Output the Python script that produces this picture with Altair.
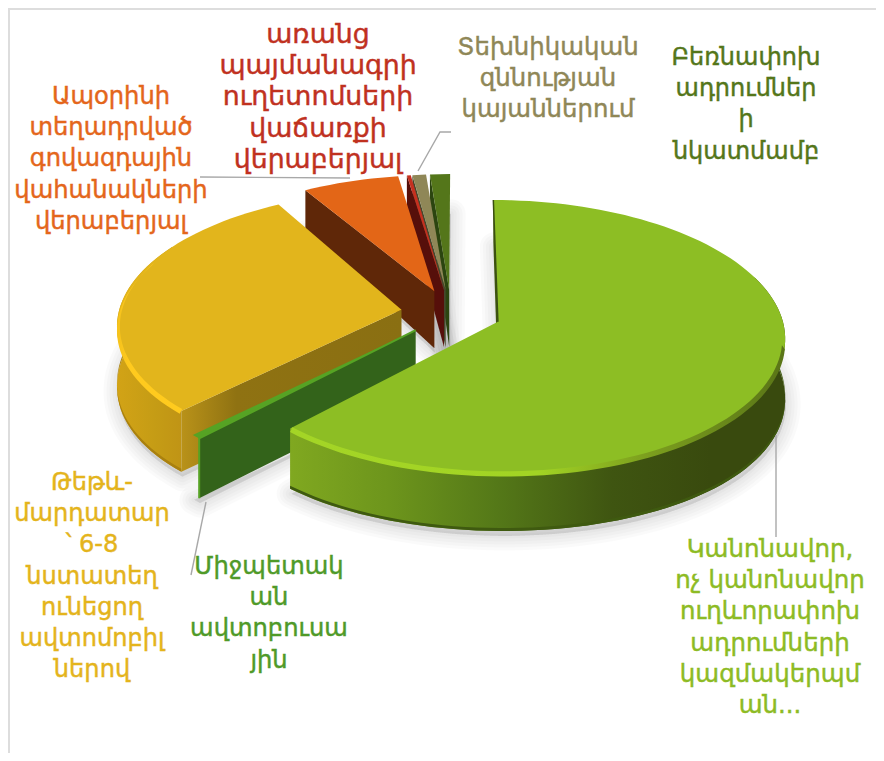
import math
import altair as alt

# --- data (share of the whole, percent; clockwise from 12 o'clock)
names = ["Կանոնավոր", "Միջպետական", "Թեթև-մարդատար", "Ապօրինի", "առանց", "Տեխնիկական", "Բեռնափոխ"]
shares = [62.0, 0.5, 29.3, 6.15, 0.25, 0.87, 1.28]
gaps = [0, 0, 0, -0.35, 0, 0, 0.05]
top_colors = ["#8dbe24", "#56a324", "#e2b51c", "#e36617", "#c5301f", "#8f8757", "#54761a"]
wall_colors = ["#3f5511", "#33631a", "#8a6f12", "#5f2708", "#560f0a", "#45472c", "#2c4510"]

label_lines = [
    ["Կանոնավոր,", "ոչ կանոնավոր", "ուղևորափոխ", "ադրումների", "կազմակերպմ", "ան..."],
    ["Միջպետակ", "ան", "ավտոբուսա", "յին"],
    ["Թեթև-", "մարդատար", "՝ 6-8", "նստատեղ", "ունեցող", "ավտոմոբիլ", "ներով"],
    ["Ապօրինի", "տեղադրված", "գովազդային", "վահանակների", "վերաբերյալ"],
    ["առանց", "պայմանագրի", "ուղետոմսերի", "վաճառքի", "վերաբերյալ"],
    ["Տեխնիկական", "զննության", "կայաններում"],
    ["Բեռնափոխ", "ադրումներ", "ի", "նկատմամբ"],
]
label_colors = ["#8dbb24", "#4f9a28", "#e4b41c", "#e4661b", "#c0311f", "#8f8757", "#54761a"]
label_x = [770, 269, 92, 111, 318, 548, 746]
label_y = [550, 567, 483, 97, 35, 48, 58]
label_size = [24.5, 24.2, 24.1, 24.2, 26.8, 24.4, 24.0]
label_step = 31.2
FONT = "DejaVu Sans"

# --- drawing model: a perspective disc
Cx, Cy, R, S, PERSP, EXPLODE = 451.0, 313.0, 283.0, 133.0, 0.1077, 0.177
OX, OY = 8, 8


def depth(v):
    return 57 - 20.1 * (v - 0.165) - 9.55 * (v - 0.165) * (v - 0.96)


def pt(center, r, a, z=0.0):
    d = math.radians(a)
    u = center[0] + r * math.sin(d)
    v = center[1] + r * math.cos(d)
    w = 1 + PERSP * v
    return [Cx + R * u / w, Cy - S * v / w + depth(v) * z]


def arc(center, r, a0, a1, z=0.0, step=2.0):
    n = max(2, int(abs(a1 - a0) / step) + 1)
    return [pt(center, r, a0 + (a1 - a0) * i / (n - 1), z) for i in range(n)]


def grad(stops, horizontal=True):
    return alt.LinearGradient(
        gradient="linear",
        stops=[alt.GradientStop(offset=o, color=c) for o, c in stops],
        x1=0, x2=1 if horizontal else 0, y1=0, y2=0 if horizontal else 1,
    )


projection = alt.Projection(type="identity", scale=1, translate=[-OX, -OY])
layers = []


def poly(points, **style):
    pts = points + [points[0]]
    data = alt.Data(values=[{"type": "Feature", "properties": {},
                             "geometry": {"type": "Polygon", "coordinates": [pts]}}])
    style.setdefault("strokeWidth", 0)
    layers.append(alt.Chart(data).mark_geoshape(**style).project(**projection.to_dict()))


def line(points, color="#a8a8a8", width=1.4, opacity=1.0):
    data = alt.Data(values=[{"type": "Feature", "properties": {},
                             "geometry": {"type": "LineString", "coordinates": points}}])
    layers.append(alt.Chart(data).mark_geoshape(
        filled=False, stroke=color, strokeWidth=width, strokeOpacity=opacity
    ).project(**projection.to_dict()))


# angle ranges
angles = []
acc = 0.0
for s, g in zip(shares, gaps):
    acc += g * 3.6
    angles.append((acc, acc + s * 3.6))
    acc += s * 3.6
centers = []
for a0, a1 in angles:
    b = math.radians((a0 + a1) / 2)
    centers.append((EXPLODE * math.sin(b), EXPLODE * math.cos(b)))

# frame
poly([[OX, OY], [OX + 2, OY], [OX + 2, 761], [OX, 761]], fill="#dddddd")
poly([[OX, OY], [884, OY], [884, OY + 2], [OX, OY + 2]], fill="#dddddd")

# soft shadows
for k in range(5):
    for i, (a0, a1) in enumerate(angles):
        c = centers[i]
        pts = [pt(c, 0, 0, 1)] + arc(c, 1, a0, a1, 1)
        pts = [[x + 1, y + 5] for x, y in pts]
        poly(pts, fill="#000000", fillOpacity=0.018, stroke="#000000",
             strokeOpacity=0.018, strokeWidth=5 + 6 * k, strokeJoin="round")

# rim fills per slice (visible arc, or none)
rim_arcs = {0: (70, None), 2: (None, 300)}
bevel_arcs = {0: (100, None), 2: (None, 292)}
rim_grad = {
    0: grad([(0, "#80a820"), (0.2, "#6d951c"), (0.42, "#547818"), (0.65, "#3f5511"), (0.85, "#394a0e"), (1, "#394a0e")]),
    2: grad([(0, "#d2a316"), (0.6, "#c59c15"), (1, "#c09415")]),
}
bevel_grad = {
    0: grad([(0, "#a4d526"), (0.5, "#a2d424"), (0.72, "#7c9f1e"), (1, "#5a7517")]),
    2: grad([(0, "#f5c21c"), (0.2, "#ffca1e"), (1, "#ffcb1e")]),
}
bottom_edge = {0: "#3f5a10", 2: "#a9800f"}
wall_fill = {
    2: grad([(0, "#b99219"), (0.25, "#8f7212"), (1, "#8a6f12")]),
    1: "#33631a",
}

for i in [6, 5, 4, 3, 2, 1, 0]:
    a0, a1 = angles[i]
    c = centers[i]
    # outer rim
    if i in rim_arcs:
        s0 = rim_arcs[i][0] if rim_arcs[i][0] is not None else a0
        s1 = rim_arcs[i][1] if rim_arcs[i][1] is not None else a1
        poly(arc(c, 1, s0, s1, 0) + arc(c, 1, s1, s0, 1), fill=rim_grad[i])
        poly(arc(c, 1, s0, s1, 0.95) + arc(c, 1, s1, s0, 1), fill=bottom_edge[i])
    # cut wall on the visible side
    wall = [pt(c, 0, 0, 0), pt(c, 1, a0, 0), pt(c, 1, a0, 1), pt(c, 0, 0, 1)]
    poly(wall, fill=wall_fill.get(i, wall_colors[i]))
    # top face
    poly([pt(c, 0, 0, 0)] + arc(c, 1, a0, a1, 0), fill=top_colors[i])
    # bevel along the front edge
    if i in bevel_arcs:
        s0 = bevel_arcs[i][0] if bevel_arcs[i][0] is not None else a0 + 0.5
        s1 = bevel_arcs[i][1] if bevel_arcs[i][1] is not None else a1
        poly(arc(c, 0.99, s0, s1, 0) + arc(c, 1, s1, s0, 0.06), fill=bevel_grad[i])
    if i == 0:
        line([pt(c, 1, a0, 0), pt(c, 0, 0, 0)], color="#3a4f10", width=1.5)
    if i == 1:
        line([pt(c, 0, 0, 0), pt(c, 1, a0, 0), pt(c, 1, a0, 1)], color="#56a324", width=2)

# leader lines
line([[200, 177], [350, 178]])
line([[418, 171], [440, 132], [451, 132]])
line([[206, 502], [191, 575]])
line([[776, 435], [776, 537]])

# labels (one text layer per label, so each keeps its own size and colour)
for lines, x, y, col, size in zip(label_lines, label_x, label_y, label_colors, label_size):
    rows = [{"t": t, "x": x - OX, "y": y + k * label_step - OY} for k, t in enumerate(lines)]
    layers.append(
        alt.Chart(alt.Data(values=rows)).mark_text(
            font=FONT, fontSize=size, align="center", baseline="middle",
            color=col, stroke=col, strokeWidth=0.45,
        ).encode(
            x=alt.X("x:Q", scale=None, axis=None),
            y=alt.Y("y:Q", scale=None, axis=None),
            text="t:N",
        )
    )

chart = alt.layer(*layers).properties(
    width=868, height=745, padding=0, background="#ffffff",
    autosize=alt.AutoSizeParams(type="none"),
).configure_view(stroke=None)

chart.save("out.html", embed_options={"renderer": "svg", "actions": False})
